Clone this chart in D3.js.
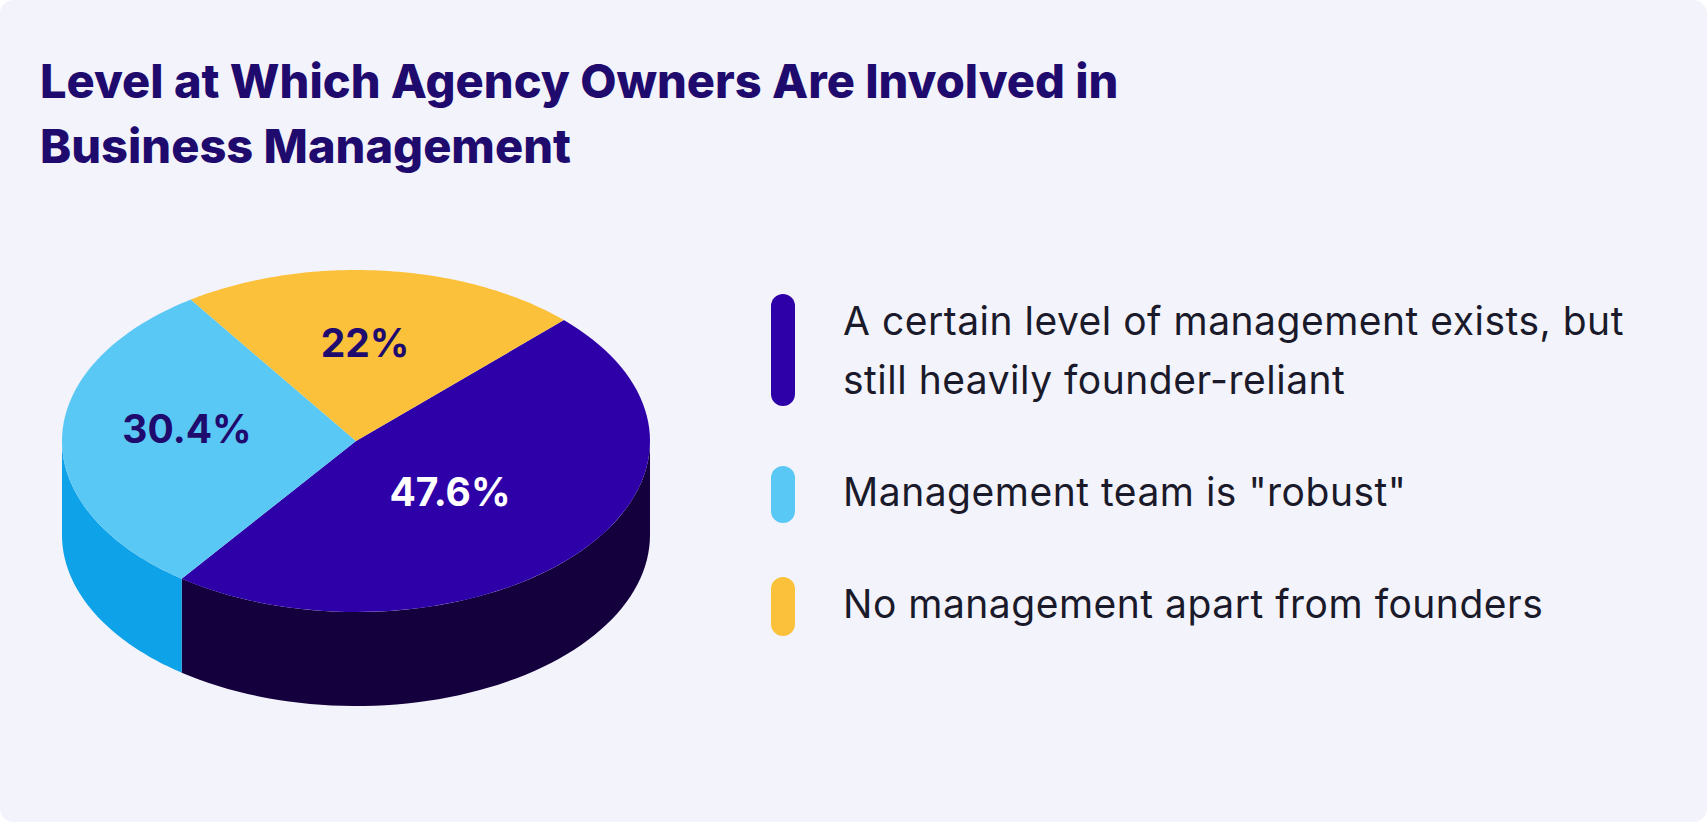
<!DOCTYPE html>
<html><head><meta charset="utf-8">
<script src="https://cdn.jsdelivr.net/npm/d3@7"></script>
<style>body{margin:0;background:#fff;font-family:Inter,"Noto Sans",sans-serif}</style>
</head><body>
<script>
var labels = ["A certain level of management exists, but|still heavily founder-reliant", "Management team is \"robust\"", "No management apart from founders"];
var values = [47.6, 30.4, 22];
var valueText = ["47.6%", "30.4%", "22%"];
var topColors = ["#2e00a8", "#5ac8f5", "#fcc13a"];
var sideColors = ["#14003d", "#0ea2e8", "#e0a020"];
var labelColors = ["#ffffff", "#1f0a6e", "#1f0a6e"];

var width = 1707, height = 822;
var cx = 356, cy = 441, rx = 294, ry = 171, depth = 94;

var svg = d3.select("body").append("svg").attr("width", width).attr("height", height);
svg.append("rect").attr("width", width).attr("height", height).attr("rx", 14).attr("fill", "#f3f3fc");

svg.append("text").attr("x", 40).attr("y", 98).attr("fill", "#1f0a6e")
    .style("font-size", "47px").style("font-weight", 800).text("Level at Which Agency Owners Are Involved in");
svg.append("text").attr("x", 40).attr("y", 163).attr("fill", "#1f0a6e")
    .style("font-size", "47px").style("font-weight", 800).text("Business Management");

var pie = d3.pie().sort(null).startAngle(Math.PI / 4).endAngle(Math.PI / 4 + 2 * Math.PI);
var arcs = pie(values);

function pt(a, dy) {
    return [cx + rx * Math.sin(a), cy - ry * Math.cos(a) + (dy || 0)];
}
var line = d3.line();

// sides (only the front half, angles between 90 and 270 deg)
var g = svg.append("g");
arcs.forEach(function(d, i) {
    var a0 = Math.max(d.startAngle, Math.PI / 2), a1 = Math.min(d.endAngle, 3 * Math.PI / 2);
    if (a1 <= a0) return;
    var n = 60, top = [], bot = [];
    for (var k = 0; k <= n; k++) {
        var a = a0 + (a1 - a0) * k / n;
        top.push(pt(a)); bot.push(pt(a, depth));
    }
    g.append("path").attr("d", line(top.concat(bot.reverse())) + "Z").attr("fill", sideColors[i]);
});

// tops
arcs.forEach(function(d, i) {
    var n = 80, p = [[cx, cy]];
    for (var k = 0; k <= n; k++) p.push(pt(d.startAngle + (d.endAngle - d.startAngle) * k / n));
    g.append("path").attr("d", line(p) + "Z").attr("fill", topColors[i]);
});

var labelPos = [[450, 495], [187, 432], [365, 346]];
arcs.forEach(function(d, i) {
    svg.append("text").attr("x", labelPos[i][0]).attr("y", labelPos[i][1]).attr("text-anchor", "middle")
        .attr("dominant-baseline", "middle").attr("fill", labelColors[i])
        .style("font-size", "39px").style("font-weight", 700).text(valueText[i]);
});

// legend
var bars = [[294, 406], [466, 523], [577, 636]];
var textY = [[324, 383], [495], [607]];
labels.forEach(function(l, i) {
    svg.append("rect").attr("x", 771).attr("y", bars[i][0]).attr("width", 24)
        .attr("height", bars[i][1] - bars[i][0]).attr("rx", 12).attr("fill", topColors[i]);
    l.split("|").forEach(function(s, j) {
        svg.append("text").attr("x", 843).attr("y", textY[i][j]).attr("dominant-baseline", "middle")
            .attr("fill", "#1a1a2a").style("font-size", "39px").style("letter-spacing", "0.5px").text(s);
    });
});
</script>
</body></html>
